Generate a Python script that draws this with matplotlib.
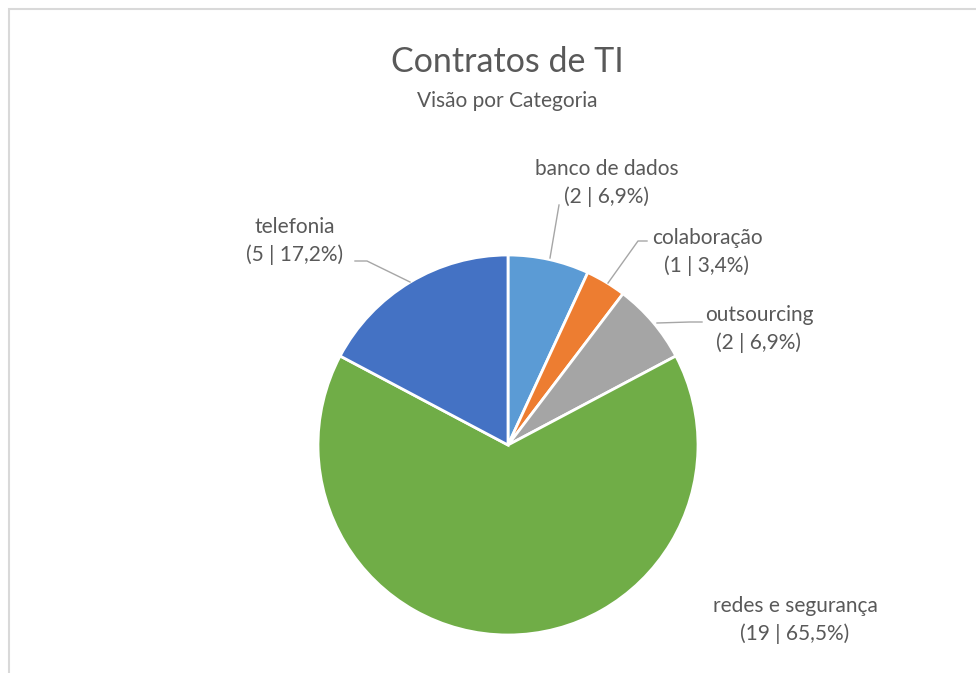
import matplotlib

matplotlib.use("Agg")
import matplotlib.pyplot as plt
from matplotlib.patches import Rectangle

# data
categories = ["banco de dados", "colaboração", "outsourcing",
              "redes e segurança", "telefonia"]
counts = [2, 1, 2, 19, 5]
colors = ["#5B9BD5", "#ED7D31", "#A5A5A5", "#70AD47", "#4472C4"]

W, H = 976, 673
TXT = "#595959"
FONT = ["Lato", "DejaVu Sans"]

fig = plt.figure(figsize=(W / 100, H / 100), dpi=100, facecolor="white")
ax = fig.add_axes([0, 0, 1, 1])
ax.set_xlim(0, W)
ax.set_ylim(0, H)
ax.set_axis_off()
ax.set_aspect("equal")

# chart frame (left + top edges visible)
ax.add_patch(Rectangle((8.5, -20), W + 40, H - 8.5 + 20, fill=False,
                       edgecolor="#d9d9d9", linewidth=1.5))

cx, cy, r = 508, H - 445, 190
ax.pie(counts, colors=colors, startangle=90, counterclock=False,
       center=(cx, cy), radius=r, frame=True,
       wedgeprops=dict(edgecolor="white", linewidth=2))
ax.set_xlim(0, W)
ax.set_ylim(0, H)
ax.set_axis_off()

ax.text(507, H - 62, "Contratos de TI", ha="center", va="center",
        fontsize=24.5, color=TXT, family=FONT)
ax.text(507, H - 101, "Visão por Categoria", ha="center", va="center",
        fontsize=15, color=TXT, family=FONT)

total = sum(counts)
# label centres (pixels from top-left) and leader line points
label_pos = [(607, 183), (707, 252), (759, 329), (795, 620), (295, 241)]
leaders = [
    [(559, 205), (550, 258)],
    [(647, 241), (638, 241), (608, 283)],
    [(702, 322), (690, 322), (657, 323)],
    None,
    [(355, 261), (367, 261), (410, 282)],
]
for name, n, (lx, ly), pts in zip(categories, counts, label_pos, leaders):
    pct = f"{100 * n / total:.1f}".replace(".", ",")
    ax.text(lx, H - ly, f"{name}\n({n} | {pct}%)", ha="center", va="center",
            fontsize=15, color=TXT, family=FONT, linespacing=1.45)
    if pts:
        ax.plot([p[0] for p in pts], [H - p[1] for p in pts],
                color="#a6a6a6", linewidth=1)

fig.savefig("out.png", dpi=100, facecolor="white")
